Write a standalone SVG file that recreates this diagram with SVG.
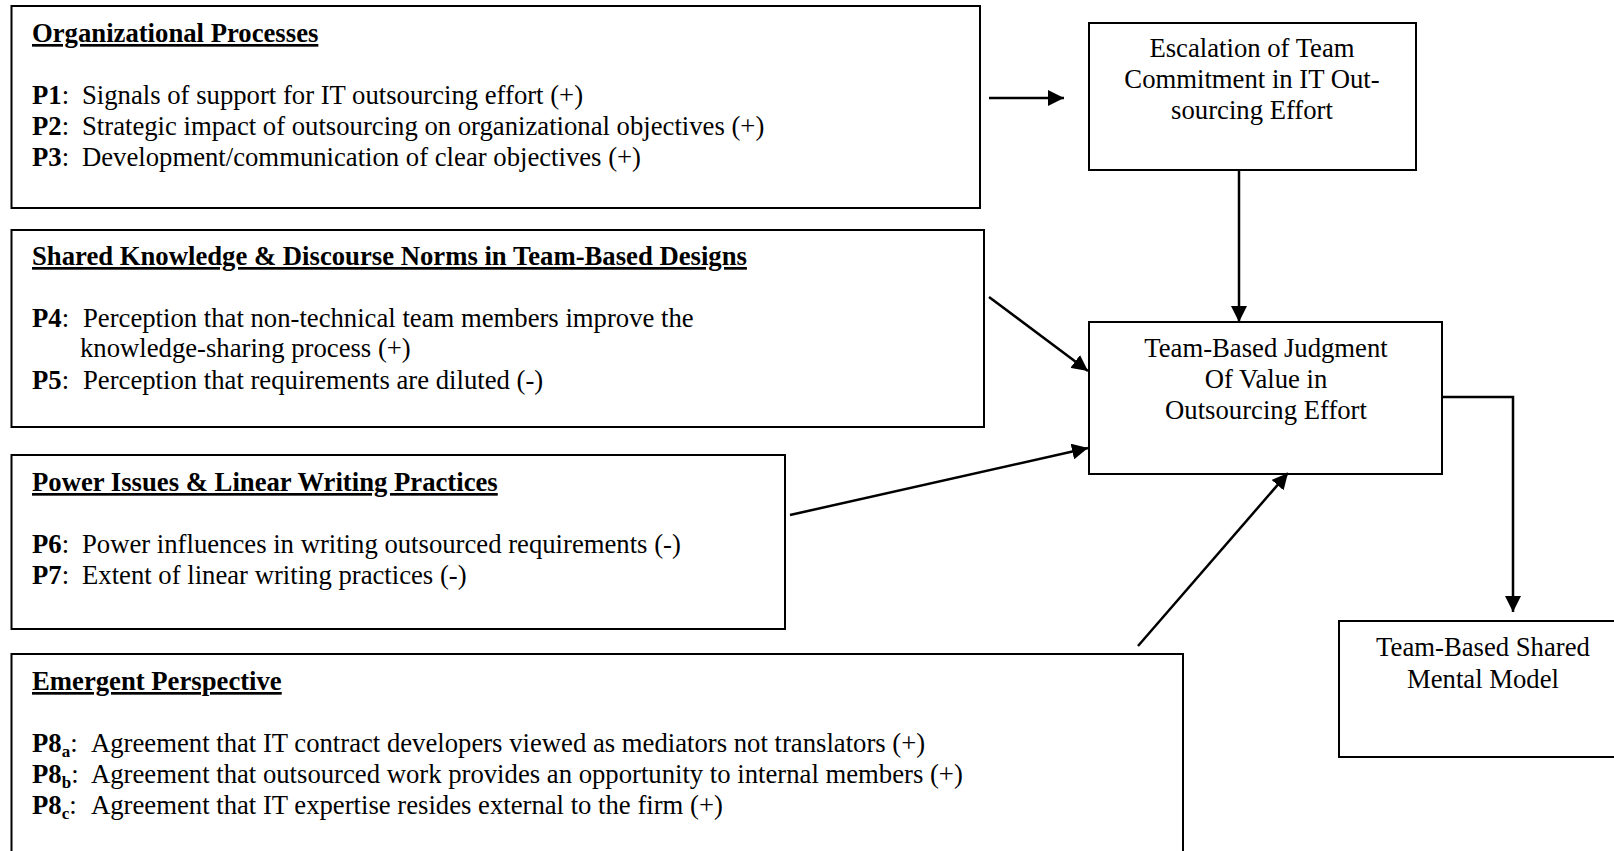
<svg xmlns="http://www.w3.org/2000/svg" width="1614" height="851" viewBox="0 0 1614 851">
  <style>
    .box { fill: #ffffff; stroke: #000000; stroke-width: 2; }
    .t { font-family: "Liberation Serif", "Times New Roman", serif; font-size: 26.7px; fill: #000000; }
    .c { text-anchor: middle; }
    .h { font-weight: bold; text-decoration: underline; text-decoration-thickness: 2.5px; text-underline-offset: 3px; }
    .b { font-weight: bold; }
    .sub { font-size: 17px; font-weight: bold; }
    .conn { fill: none; stroke: #000000; stroke-width: 2.5; marker-end: url(#ah); }
  </style>
  <defs>
    <marker id="ah" markerUnits="userSpaceOnUse" markerWidth="16" markerHeight="16" refX="16" refY="8" orient="auto">
      <path d="M0,0 L16,8 L0,16 Z" fill="#000000"/>
    </marker>
  </defs>
  <rect width="1614" height="851" fill="#ffffff"/>

  <g id="org-processes">
    <rect class="box" x="11.5" y="6" width="968.5" height="202"/>
    <text class="t h" x="32" y="42">Organizational Processes</text>
    <text class="t" x="32" y="104"><tspan class="b">P1</tspan>:<tspan x="82">Signals of support for IT outsourcing effort (+)</tspan></text>
    <text class="t" x="32" y="135"><tspan class="b">P2</tspan>:<tspan x="82">Strategic impact of outsourcing on organizational objectives (+)</tspan></text>
    <text class="t" x="32" y="166"><tspan class="b">P3</tspan>:<tspan x="82">Development/communication of clear objectives (+)</tspan></text>
  </g>

  <g id="shared-knowledge">
    <rect class="box" x="11.5" y="230" width="972.5" height="197"/>
    <text class="t h" x="32" y="265">Shared Knowledge &amp; Discourse Norms in Team-Based Designs</text>
    <text class="t" x="32" y="327"><tspan class="b">P4</tspan>:<tspan x="83">Perception that non-technical team members improve the</tspan></text>
    <text class="t" x="80" y="357">knowledge-sharing process (+)</text>
    <text class="t" x="32" y="389"><tspan class="b">P5</tspan>:<tspan x="83">Perception that requirements are diluted (-)</tspan></text>
  </g>

  <g id="power-issues">
    <rect class="box" x="11.5" y="455" width="773.5" height="174"/>
    <text class="t h" x="32" y="491">Power Issues &amp; Linear Writing Practices</text>
    <text class="t" x="32" y="553"><tspan class="b">P6</tspan>:<tspan x="82">Power influences in writing outsourced requirements (-)</tspan></text>
    <text class="t" x="32" y="584"><tspan class="b">P7</tspan>:<tspan x="82">Extent of linear writing practices (-)</tspan></text>
  </g>

  <g id="emergent-perspective">
    <rect class="box" x="11.5" y="654" width="1171.5" height="220"/>
    <text class="t h" x="32" y="690">Emergent Perspective</text>
    <text class="t" x="32" y="752"><tspan class="b">P8</tspan><tspan class="sub" dy="5">a</tspan><tspan dy="-5">:</tspan><tspan x="91">Agreement that IT contract developers viewed as mediators not translators (+)</tspan></text>
    <text class="t" x="32" y="783"><tspan class="b">P8</tspan><tspan class="sub" dy="5">b</tspan><tspan dy="-5">:</tspan><tspan x="91">Agreement that outsourced work provides an opportunity to internal members (+)</tspan></text>
    <text class="t" x="32" y="814"><tspan class="b">P8</tspan><tspan class="sub" dy="5">c</tspan><tspan dy="-5">:</tspan><tspan x="91">Agreement that IT expertise resides external to the firm (+)</tspan></text>
  </g>

  <g id="escalation">
    <rect class="box" x="1089" y="23" width="327" height="147"/>
    <text class="t c" x="1252" y="57">Escalation of Team</text>
    <text class="t c" x="1252" y="88">Commitment in IT Out-</text>
    <text class="t c" x="1252" y="119">sourcing Effort</text>
  </g>

  <g id="judgment">
    <rect class="box" x="1089" y="322" width="353" height="152"/>
    <text class="t c" x="1266" y="357">Team-Based Judgment</text>
    <text class="t c" x="1266" y="388">Of Value in</text>
    <text class="t c" x="1266" y="419">Outsourcing Effort</text>
  </g>

  <g id="shared-mental-model">
    <rect class="box" x="1339" y="621" width="290" height="136"/>
    <text class="t c" x="1483" y="656">Team-Based Shared</text>
    <text class="t c" x="1483" y="688">Mental Model</text>
  </g>

  <g id="connectors">
    <line class="conn" x1="989" y1="98" x2="1064" y2="98"/>
    <line class="conn" x1="1239" y1="171" x2="1239" y2="322"/>
    <line class="conn" x1="989" y1="297" x2="1088" y2="371"/>
    <line class="conn" x1="790" y1="515" x2="1088" y2="448"/>
    <line class="conn" x1="1138" y1="646" x2="1288" y2="473"/>
    <polyline class="conn" points="1443,397 1513,397 1513,612"/>
  </g>
</svg>
